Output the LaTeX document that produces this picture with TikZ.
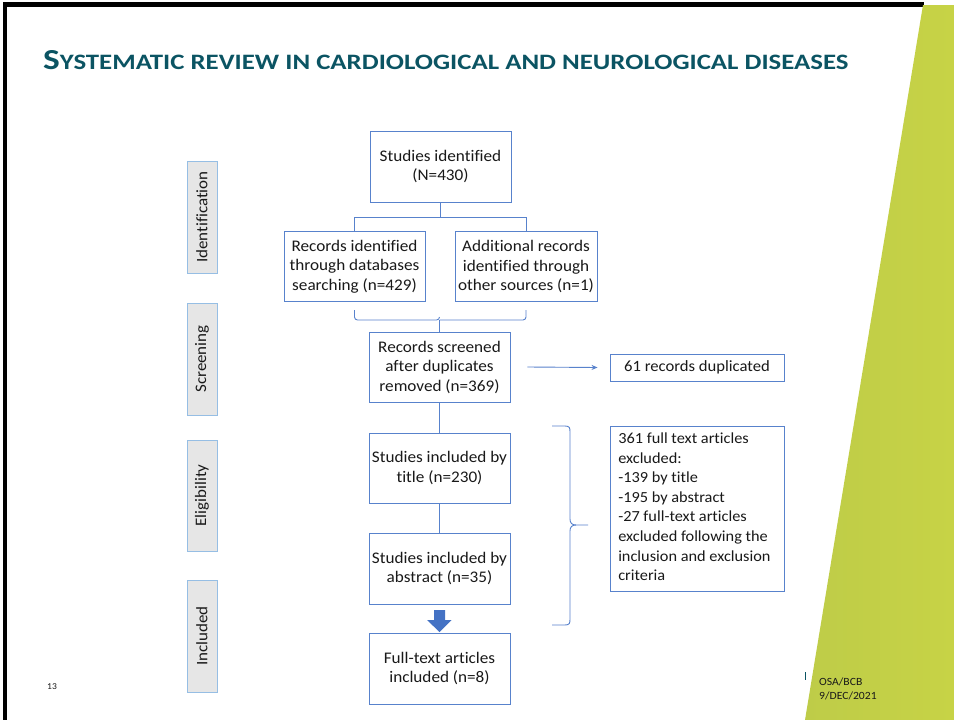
\documentclass[tikz,border=0pt]{standalone}
\usepackage{fontspec}
\setmainfont{Carlito}[Ligatures=CommonOff, FakeStretch=1.06]
\newfontfamily\titlefont{Carlito}[Ligatures=CommonOff, FakeStretch=1.22]
\usetikzlibrary{arrows.meta}

\definecolor{boxline}{RGB}{88,130,204}
\definecolor{stageline}{RGB}{150,190,228}
\definecolor{stagefill}{RGB}{230,230,230}
\definecolor{txt}{RGB}{25,25,25}
\definecolor{titleteal}{RGB}{11,84,99}
\definecolor{lime}{RGB}{199,211,70}
\definecolor{limelight}{RGB}{190,204,72}
\definecolor{arrowblue}{RGB}{68,114,196}

\tikzset{
  flowbox/.style={draw=boxline, line width=0.9pt, fill=white, text=txt,
    minimum width=141pt, minimum height=70pt, inner sep=1pt, align=center,
    font=\fontsize{16.2}{19.5}\selectfont},
  stagebox/.style={draw=stageline, line width=1pt, fill=stagefill, text=txt,
    minimum width=112pt, minimum height=30pt, inner sep=0pt, rotate=90,
    font=\fontsize{16}{18}\selectfont},
  link/.style={draw=boxline, line width=0.9pt},
}

\begin{document}
\begin{tikzpicture}[x=1pt, y=-1pt]
  % slide canvas
  \fill[white] (0,0) rectangle (954,720);
  \useasboundingbox (0,0) rectangle (954,720);

  % slide frame (top and left edges)
  \fill[black] (3,2) rectangle (924,6.5);
  \fill[black] (3,2) rectangle (7,720);

  % lime wedge on the right
  \shade[left color=limelight, right color=lime] (923,5) -- (954,5) -- (954,720) -- (805,720) -- cycle;

  % title in small caps
  \node[anchor=base west, inner sep=0pt, text=titleteal, font=\titlefont\bfseries] (ttl) at (43,69.3)
    {\fontsize{29}{30}\selectfont S\fontsize{22}{24}\selectfont YSTEMATIC REVIEW IN CARDIOLOGICAL AND NEUROLOGICAL DISEASES};

  % stage labels
  \node[stagebox] (sId) at (202,217) {Identification};
  \node[stagebox] (sSc) at (202,359) {Screening};
  \node[stagebox, minimum width=111pt] (sEl) at (202,495.5) {Eligibility};
  \node[stagebox] (sIn) at (202,636) {Included};

  % flow boxes
  \node[flowbox, minimum height=71pt] (top) at (440.5,166.5) {Studies identified\\(N=430)};
  \node[flowbox] (rec) at (354.5,266.5) {Records identified\\through databases\\searching (n=429)};
  \node[flowbox, minimum width=142pt] (add) at (526,266.5) {Additional records\\identified through\\other sources (n=1)};
  \node[flowbox] (scr) at (439.5,367) {Records screened\\after duplicates\\removed (n=369)};
  \node[flowbox, minimum width=174pt, minimum height=27pt, font=\fontsize{15.7}{19.5}\selectfont] (dup) at (697,367.5) {61 records duplicated};
  \node[flowbox] (tit) at (439.5,468) {Studies included by\\title (n=230)};
  \node[flowbox, minimum height=71pt] (abs) at (439.5,568.5) {Studies included by\\abstract (n=35)};
  \node[flowbox, minimum height=71pt] (ful) at (439.5,668.5) {Full-text articles\\included (n=8)};
  \node[flowbox, minimum width=174pt, minimum height=165pt] (exc) at (697,508.5) {};
  \node[anchor=north west, inner sep=0pt, align=left, text=txt,
        font=\fontsize{15.4}{19.6}\selectfont] (exctxt) at ([xshift=8.5pt, yshift=-7pt]exc.north west)
    {361 full text articles\\excluded:\\-139 by title\\-195 by abstract\\-27 full-text articles\\excluded following the\\inclusion and exclusion\\criteria};

  % split below the first box
  \coordinate (split) at (440.5,217);
  \coordinate (splitL) at (rec.north |- split);
  \coordinate (splitR) at (add.north |- split);
  \draw[link] (top.south) -- (split);
  \draw[link] (splitR) -- (splitL);
  \draw[link] (splitL) -- (rec.north);
  \draw[link] (splitR) -- (add.north);

  % bracket joining the two sources
  \coordinate (brL) at (rec.south |- 0,310);
  \coordinate (brR) at (add.south |- 0,310);
  \coordinate (brM) at (scr.north |- 0,320);
  \draw[link, rounded corners=3pt] (brL) -- ++(0,10) -- (brM) -- ++(0,-3);
  \draw[link, rounded corners=3pt] (brR) -- ++(0,10) -- (brM);
  \draw[link] (brM) -- (scr.north);

  % duplicates arrow
  \draw[link, -{Stealth[length=6pt,width=5pt]}] ([xshift=17pt]scr.east) -- ([xshift=-12pt]dup.west);

  % main chain
  \draw[link] (scr.south) -- (tit.north);
  \draw[link] (tit.south) -- (abs.north);
  % block arrow: shaft 610-620, head 620-632
  \coordinate (blkTop) at (abs.south |- 0,610);
  \coordinate (blkTip) at (ful.north |- 0,632);
  \fill[arrowblue] ([xshift=-5.5pt]blkTop) -- ([xshift=5.5pt]blkTop) -- ++(0,10) -- ++(6.5,0)
     -- (blkTip) -- ([xshift=-12.5pt]blkTip |- 0,620) -- ++(7,0) -- cycle;

  % bracket collecting the exclusions
  \coordinate (cbT) at (552,426);
  \coordinate (cbB) at (552,625);
  \coordinate (cbTip) at (588,525);
  \draw[link] (cbT) -- (565,426) .. controls (570,426) and (570,428) .. (570,433)
     -- (570,519) .. controls (570,523) and (572,525) .. (576,525) -- (cbTip);
  \draw[link] (cbB) -- (565,625) .. controls (570,625) and (570,623) .. (570,618)
     -- (570,531) .. controls (570,527) and (572,525) .. (576,525);

  % footer
  \node[anchor=base west, inner sep=0pt, text=txt, font=\fontsize{9}{10}\selectfont] (pg) at (47,689.5) {13};
  \draw[titleteal, line width=0.6pt] (805.5,672) -- (805.5,680);
  \node[anchor=north west, inner sep=0pt, align=left, text=txt,
        font=\fontsize{11}{14}\selectfont] (ft) at (819,677.5) {OSA/BCB\\9/DEC/2021};
\end{tikzpicture}
\end{document}
